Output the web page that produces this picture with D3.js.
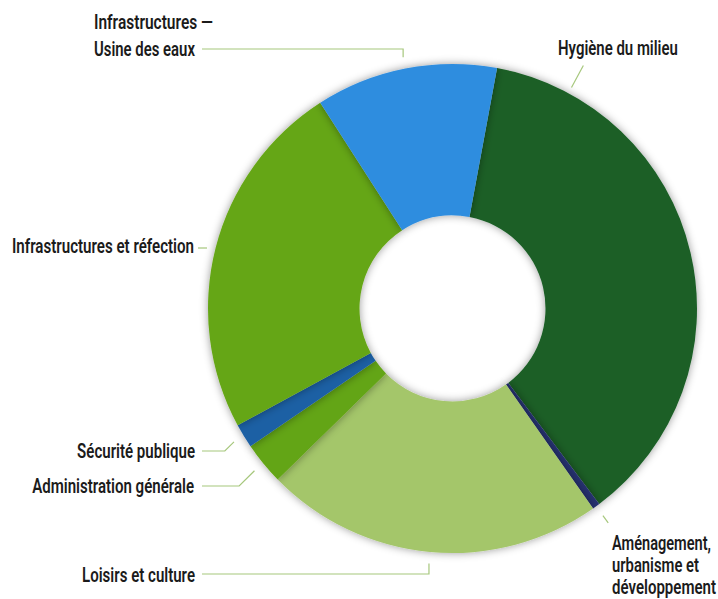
<!DOCTYPE html>
<html>
<head>
<meta charset="utf-8">
<script src="https://cdn.jsdelivr.net/npm/d3@7"></script>
<style>
  html, body { margin: 0; padding: 0; background: #ffffff; }
  svg { display: block; }
  .lbl { font-family: Roboto, "Noto Sans", sans-serif; font-weight: 600; font-size: 20px; fill: #1b1b1b; }
</style>
</head>
<body>
<svg id="chart" width="718" height="599"></svg>
<script>
// ---- data ----
const categories = [
  "Hygiène du milieu",
  "Aménagement, urbanisme et développement",
  "Loisirs et culture",
  "Administration générale",
  "Sécurité publique",
  "Infrastructures et réfection",
  "Infrastructures — Usine des eaux"
];
const shares = [36.8, 0.5, 22.4, 2.8, 1.6, 23.8, 12.0];
const colors = ["#1b5f27", "#28336f", "#a4c66b", "#63a513", "#1c60a4", "#65a614", "#2f8ddf"];

// ---- label layout (annotation placement) ----
const labelLines = [
  ["Hygiène du milieu"],
  ["Aménagement,", "urbanisme et", "développement"],
  ["Loisirs et culture"],
  ["Administration générale"],
  ["Sécurité publique"],
  ["Infrastructures et réfection"],
  ["Infrastructures —", "Usine des eaux"]
];
const labelLayout = [
  {x: 558, anchor: "start", ys: [55], ws: [120], leader: {type: "radial", angle: 28.3, r0: 251, r1: 276}},
  {x: 612, anchor: "start", ys: [550, 572, 594], ws: [99, 87, 104], leader: {type: "radial", r0: 256, r1: 265}},
  {x: 195, anchor: "end", ys: [582], ws: [113], leader: {type: "elbowV", y: 574, x0: 202}},
  {x: 194, anchor: "end", ys: [493], ws: [162], leader: {type: "elbowD", y: 486, x0: 202}},
  {x: 195, anchor: "end", ys: [458], ws: [118], leader: {type: "elbowD", y: 451, x0: 202}},
  {x: 194, anchor: "end", ys: [253], ws: [182], leader: {type: "flat", y: 248, x0: 198, x1: 207}},
  {x: 94, anchor: "start", ys: [29, 56], ws: [119, 101], leader: {type: "elbowV", y: 49, x0: 202}}
];

const cx = 452.5, cy = 308.5, outerR = 244.5, innerR = 93, leaderR = 256;
const startDeg = 10.5;

const svg = d3.select("#chart");
const defs = svg.append("defs");
const f = defs.append("filter").attr("id", "sh")
  .attr("x", "-20%").attr("y", "-20%").attr("width", "140%").attr("height", "140%");
f.append("feDropShadow").attr("dx", 0).attr("dy", 0).attr("stdDeviation", 4)
  .attr("flood-color", "#000").attr("flood-opacity", 0.4);

const rad = d => d * Math.PI / 180;
const pie = d3.pie().sort(null).value(d => d)
  .startAngle(rad(startDeg)).endAngle(rad(startDeg) + 2 * Math.PI);
const arcs = pie(shares);
const arc = d3.arc().innerRadius(innerR).outerRadius(outerR);

const g = svg.append("g").attr("transform", `translate(${cx},${cy})`);
g.selectAll("path.slice").data(arcs).join("path")
  .attr("class", "slice")
  .attr("d", arc)
  .attr("fill", (d, i) => colors[i])
  .attr("filter", "url(#sh)");

const polar = (a, r) => [cx + r * Math.sin(a), cy - r * Math.cos(a)];

// leaders
const leaderG = svg.append("g").attr("fill", "none").attr("stroke", "#a6c77c").attr("stroke-width", 1.2);
arcs.forEach((d, i) => {
  const L = labelLayout[i].leader;
  const mid = (d.startAngle + d.endAngle) / 2;
  let pts;
  if (L.type === "radial") {
    const a = L.angle !== undefined ? rad(L.angle) : mid;
    pts = [polar(a, L.r0), polar(a, L.r1)];
  } else if (L.type === "elbowV") {
    const p = polar(mid, leaderR);
    pts = [[L.x0, L.y], [p[0], L.y], p];
  } else if (L.type === "elbowD") {
    const p = polar(mid, leaderR);
    pts = [[L.x0, L.y], [p[0] - Math.abs(L.y - p[1]), L.y], p];
  } else {
    pts = [[L.x0, L.y], [L.x1, L.y]];
  }
  leaderG.append("path").attr("d", d3.line()(pts));
});

// labels (condensed by horizontal scaling to the reference widths)
const tg = svg.append("g");
labelLines.forEach((lines, i) => {
  const Lo = labelLayout[i];
  lines.forEach((t, j) => {
    const el = tg.append("text").attr("class", "lbl")
      .attr("x", 0).attr("y", 0)
      .attr("text-anchor", Lo.anchor)
      .text(t);
    const w = el.node().getComputedTextLength();
    const s = Lo.ws[j] / w;
    el.attr("transform", `translate(${Lo.x},${Lo.ys[j]}) scale(${s},1)`);
  });
});
</script>
</body>
</html>
